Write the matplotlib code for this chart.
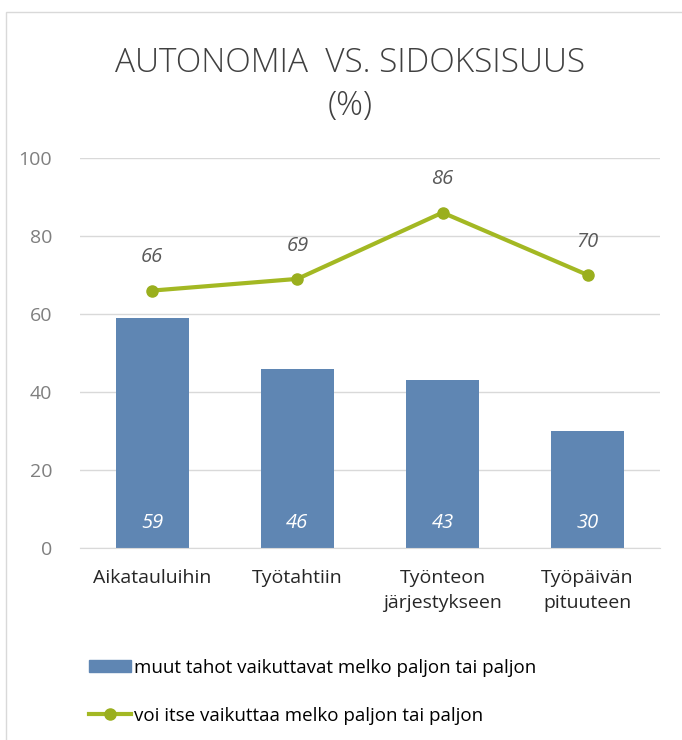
import matplotlib.pyplot as plt
from matplotlib.patches import Rectangle
from matplotlib.lines import Line2D

categories = ['Aikatauluihin', 'Työtahtiin', 'Työnteon\njärjestykseen', 'Työpäivän\npituuteen']
muut_tahot = [59, 46, 43, 30]
voi_itse = [66, 69, 86, 70]
yticks = [0, 20, 40, 60, 80, 100]

bar_color = '#5f86b3'
line_color = '#a3b823'
grid_color = '#d9d9d9'
tick_color = '#7f7f7f'

plt.rcParams['font.family'] = ['Open Sans', 'DejaVu Sans']

fig = plt.figure(figsize=(6.82, 7.4), dpi=100)
ax = fig.add_axes([0.117, 0.2595, 0.851, 0.527])

x = list(range(len(categories)))
ax.bar(x, muut_tahot, width=0.5, color=bar_color, zorder=2,
       label='muut tahot vaikuttavat melko paljon tai paljon')
ax.plot(x, voi_itse, color=line_color, lw=3, marker='o', ms=8,
        markerfacecolor='#9aaf1e', markeredgecolor='#9aaf1e', zorder=3,
        label='voi itse vaikuttaa melko paljon tai paljon')

# data labels
for i, v in enumerate(muut_tahot):
    ax.text(i, 6.5, str(v), ha='center', va='center', color='white',
            fontsize=14.5, style='italic')
for i, v in enumerate(voi_itse):
    ax.text(i, v + 8.5, str(v), ha='center', va='center', color='#595959',
            fontsize=14.5, style='italic')

ax.set_xlim(-0.5, 3.5)
ax.set_ylim(0, 100)
ax.set_yticks(yticks)
ax.set_xticks(x)
ax.set_xticklabels(categories, fontsize=14, color='#262626', linespacing=1.5)
ax.tick_params(axis='y', labelsize=14, labelcolor=tick_color, length=0, pad=20)
ax.tick_params(axis='x', length=0, pad=15)
ax.yaxis.grid(True, color=grid_color, lw=1, zorder=0)
ax.set_axisbelow(True)
for s in ['top', 'right', 'left']:
    ax.spines[s].set_visible(False)
ax.spines['bottom'].set_color(grid_color)

fig.text(0.513, 0.915, 'AUTONOMIA  VS. SIDOKSISUUS', ha='center', va='center',
         fontsize=24, fontweight='light', color='#404040')
fig.text(0.513, 0.856, '(%)', ha='center', va='center',
         fontsize=24, fontweight='light', color='#404040')

# legend
handles = [Rectangle((0, 0), 1, 1, color=bar_color),
           Line2D([], [], color=line_color, lw=3, marker='o', ms=8,
                  markerfacecolor='#9aaf1e', markeredgecolor='#9aaf1e')]
labels = ['muut tahot vaikuttavat melko paljon tai paljon',
          'voi itse vaikuttaa melko paljon tai paljon']
fig.legend(handles, labels, loc='upper left', bbox_to_anchor=(0.12, 0.12),
           frameon=False, fontsize=13.5, handlelength=2.2, handleheight=0.6,
           handletextpad=0.2, labelspacing=1.6, borderaxespad=0)

# outer border
fig.patches.append(Rectangle((6 / 682, -0.1), 1.2, 1 - 12 / 740 + 0.1,
                             transform=fig.transFigure, fill=False,
                             edgecolor='#d9d9d9', lw=1))

fig.savefig('out.png', dpi=100)
